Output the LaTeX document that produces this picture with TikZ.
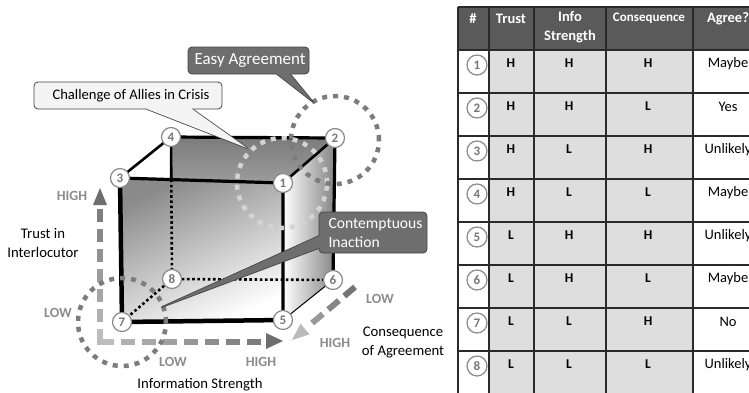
\documentclass[tikz,border=0pt]{standalone}
\usepackage{fontspec}
\setmainfont{Carlito}
\usetikzlibrary{calc}
\definecolor{hdrgray}{HTML}{5A5A5A}
\definecolor{cellgray}{HTML}{DEDEDE}
\definecolor{gridc}{HTML}{2A2A2A}
\definecolor{numgray}{HTML}{777777}
\definecolor{ringgray}{HTML}{8A8A8A}
\definecolor{lblgray}{HTML}{8C8C8C}
\definecolor{dotdark}{HTML}{7C7C7C}
\definecolor{dotlight}{HTML}{D4D4D4}
\definecolor{calldark}{HTML}{6E6E6E}
\definecolor{callline}{HTML}{444444}
\definecolor{calllight}{HTML}{F4F4F4}
\begin{document}
\begin{tikzpicture}[x=1pt,y=-1pt,
  cnode/.style={circle,draw=ringgray,line width=1.2pt,fill=white,inner sep=0pt,minimum size=19pt,text=numgray,font=\fontsize{13}{13}\selectfont\bfseries},
  tnum/.style={cnode,minimum size=20pt},
  axlbl/.style={text=lblgray,font=\fontsize{14}{14}\selectfont\bfseries},
  blbl/.style={font=\fontsize{14.7}{19}\selectfont,align=center},
  hdr/.style={text=white,font=\fontsize{14.5}{19}\selectfont\bfseries,align=center},
  cell/.style={font=\fontsize{13.5}{13.5}\selectfont\bfseries},
  agree/.style={font=\fontsize{14.5}{14.5}\selectfont},
  gridline/.style={draw=gridc,line width=1.4pt},
  ringdots/.style={line width=4.5pt,dash pattern=on 5pt off 6pt},
  heavyedge/.style={line width=4.5pt,line cap=round,line join=round},
  midedge/.style={line width=3.2pt,line cap=round,line join=round},
  lightedge/.style={line width=2.6pt,line cap=round},
  hiddenedge/.style={line width=2.6pt,dash pattern=on 2.6pt off 2.6pt},
  callD/.style={fill=calldark,draw=callline,line width=0.8pt},
  callL/.style={fill=calllight,draw=callline,line width=0.8pt},
  ptrD/.style={fill=calldark,draw=callline,line width=1.6pt,line join=round},
  ptrL/.style={fill=calllight,draw=callline,line width=1.6pt,line join=round}
]
\useasboundingbox (0,0) rectangle (749,392);
\clip (0,0) rectangle (749,392);

% ---------------- table ----------------
\fill[hdrgray] (458,7) rectangle (770,50);
\fill[cellgray] (489,50) rectangle (693,394);
\foreach \xx in {458,489,534,606,693} {\draw[gridline] (\xx,7) -- (\xx,394);}
\foreach \yy in {7,50,93,136,179,222,265,308,351} {\draw[gridline] (458,\yy) -- (770,\yy);}
\node[hdr] (hnum) at (473,18.5) {\#};
\node[hdr] (htrust) at (511,19) {Trust};
\node[hdr] (hinfo) at (570,27) {Info\\Strength};
\node[hdr,font=\fontsize{13}{13}\selectfont\bfseries] (hcons) at (649,18) {Consequence};
\node[hdr] (hagree) at (728,18.5) {Agree?};
\foreach \vn/\vt/\vi/\vc/\va [count=\k from 0] in {1/H/H/H/Maybe,2/H/H/L/Yes,3/H/L/H/Unlikely,4/H/L/L/Maybe,5/L/H/H/Unlikely,6/L/H/L/Maybe,7/L/L/H/No,8/L/L/L/Unlikely}{
  \pgfmathsetmacro\yt{50+43*\k}
  \node[tnum] (tn\vn) at (477,\yt+15) {\vn};
  \node[cell] (tt\vn) at (511,\yt+13) {\vt};
  \node[cell] (ti\vn) at (569,\yt+13) {\vi};
  \node[cell] (tc\vn) at (648,\yt+13) {\vc};
  \node[agree] (ta\vn) at (728,\yt+14) {\va};
}

% ---------------- cube ----------------
\coordinate (c1) at (283,183);
\coordinate (c2) at (335,138);
\coordinate (c3) at (120,178);
\coordinate (c4) at (171,137);
\coordinate (c5) at (283,320);
\coordinate (c6) at (333,280);
\coordinate (c7) at (122,322);
\coordinate (c8) at (172,279);
\coordinate (c48) at (intersection of c4--c8 and c3--c1);

\shade[top color=black!52,bottom color=black!10] (c4) -- (c2) -- (c6) -- (c8) -- cycle;
\shade[left color=white,right color=black!48] (c1) -- (c2) -- (c6) -- (c5) -- cycle;
\shade[top color=black!46,bottom color=white,shading angle=25] (c3) -- (c1) -- (c5) -- (c7) -- cycle;

\draw[hiddenedge] (c48) -- (c8) -- (c6);
\draw[hiddenedge] (c8) -- (c7);
\draw[line width=1pt] (c5) -- (c6);
\draw[lightedge] (c4) -- (c48);
\draw[lightedge] (c3) -- (c4);
\draw[lightedge] (c1) -- (c2);
\draw[midedge] (c4) -- (c2) -- (c6);
\draw[midedge] (c3) -- (c1) -- (c5);
\draw[heavyedge] (c3) -- (c7) -- (c5);

% ---------------- axis arrows ----------------
\coordinate (ax0) at (100,342);
\coordinate (axT) at (100,188);
\coordinate (axI) at (283,341);
\coordinate (cs0) at (355,287);
\coordinate (cs1) at (292,340);
\draw[line width=6pt,draw=black!26,line join=miter] (100,329) -- (ax0) -- (114,342);
\foreach \k in {1,...,6}{
  \pgfmathsetmacro\s{20*\k}
  \pgfmathsetmacro\e{\s+13}
  \pgfmathsetmacro\gv{26+30*(\s+6.5)/154}
  \draw[line width=6pt,draw=black!\gv] (100,342-\s) -- (100,342-\e);
}
\fill[black!57] (93,205) -- (axT) -- (107,205) -- cycle;
\foreach \k in {1,...,7}{
  \pgfmathsetmacro\s{21*\k}
  \pgfmathsetmacro\e{\s+14}
  \pgfmathsetmacro\gv{26+30*(\s+7)/183}
  \draw[line width=6pt,draw=black!\gv] (100+\s,342) -- (100+\e,342);
}
\fill[black!57] (266,333) -- (axI) -- (266,349) -- cycle;
\foreach \k in {0,1,2}{
  \pgfmathsetmacro\s{21*\k}
  \pgfmathsetmacro\e{\s+14}
  \pgfmathsetmacro\gv{57-28*(\s+7)/82}
  \draw[line width=6pt,draw=black!\gv] ($(cs0)!\s pt!(cs1)$) -- ($(cs0)!\e pt!(cs1)$);
}
\coordinate (hb) at ($(cs1)!17pt!(cs0)$);
\fill[black!27] (cs1) -- ($(hb)!7pt!90:(cs0)$) -- ($(hb)!7pt!-90:(cs0)$) -- cycle;

% ---------------- dotted rings ----------------
\draw[ringdots,draw=dotlight] (282,183) circle[radius=45pt];
\draw[ringdots,draw=dotdark] (335,140) circle[radius=44pt];
\draw[ringdots,draw=dotdark] (122,322) circle[radius=44pt];

% ---------------- cube corner nodes ----------------
\foreach \j in {1,...,8}{\node[cnode] (n\j) at (c\j) {\j};}

% ---------------- callouts ----------------
% Easy Agreement
\draw[ptrD] (277,74) -- (313,102) -- (290,74) -- cycle;
\draw[callD,rounded corners=4pt] (188,47) rectangle (309,74);
\fill[calldark] (277,72) -- (277,74) -- (313,102) -- (290,74) -- (290,72) -- cycle;
\node[text=white,font=\fontsize{17}{17}\selectfont] (easy) at (250,60.5) {Easy Agreement};
% Challenge of Allies in Crisis
\draw[ptrL] (147,109) -- (247,148) -- (192,109) -- cycle;
\draw[callL,rounded corners=4pt] (34,82) rectangle (222,109);
\fill[calllight] (147,107) -- (147,109) -- (247,148) -- (192,109) -- (192,107) -- cycle;
\node[font=\fontsize{14.6}{14.6}\selectfont] (chal) at (131,95.5) {Challenge of Allies in Crisis};
% Contemptuous Inaction
\draw[ptrD] (319,236) -- (162,307) -- (319,248) -- cycle;
\draw[callD,rounded corners=4pt] (319,212) rectangle (427,253);
\fill[calldark] (321,236) -- (319,236) -- (162,307) -- (319,248) -- (321,248) -- cycle;
\node[text=white,font=\fontsize{15.6}{19}\selectfont,align=left,anchor=west] (cont) at (325,232.5) {Contemptuous\\Inaction};

% ---------------- axis labels ----------------
\node[axlbl] (hiT) at (72,196) {HIGH};
\node[axlbl] (loT) at (58,313) {LOW};
\node[axlbl] (loI) at (173,362) {LOW};
\node[axlbl] (hiI) at (261,362) {HIGH};
\node[axlbl] (loC) at (380,299) {LOW};
\node[axlbl] (hiC) at (335,343) {HIGH};
\node[blbl] (tlab) at (43,242.5) {Trust in\\Interlocutor};
\node[blbl] (ilab) at (200,385) {Information Strength};
\node[blbl] (clab) at (403,342) {Consequence\\of Agreement};
\end{tikzpicture}
\end{document}
